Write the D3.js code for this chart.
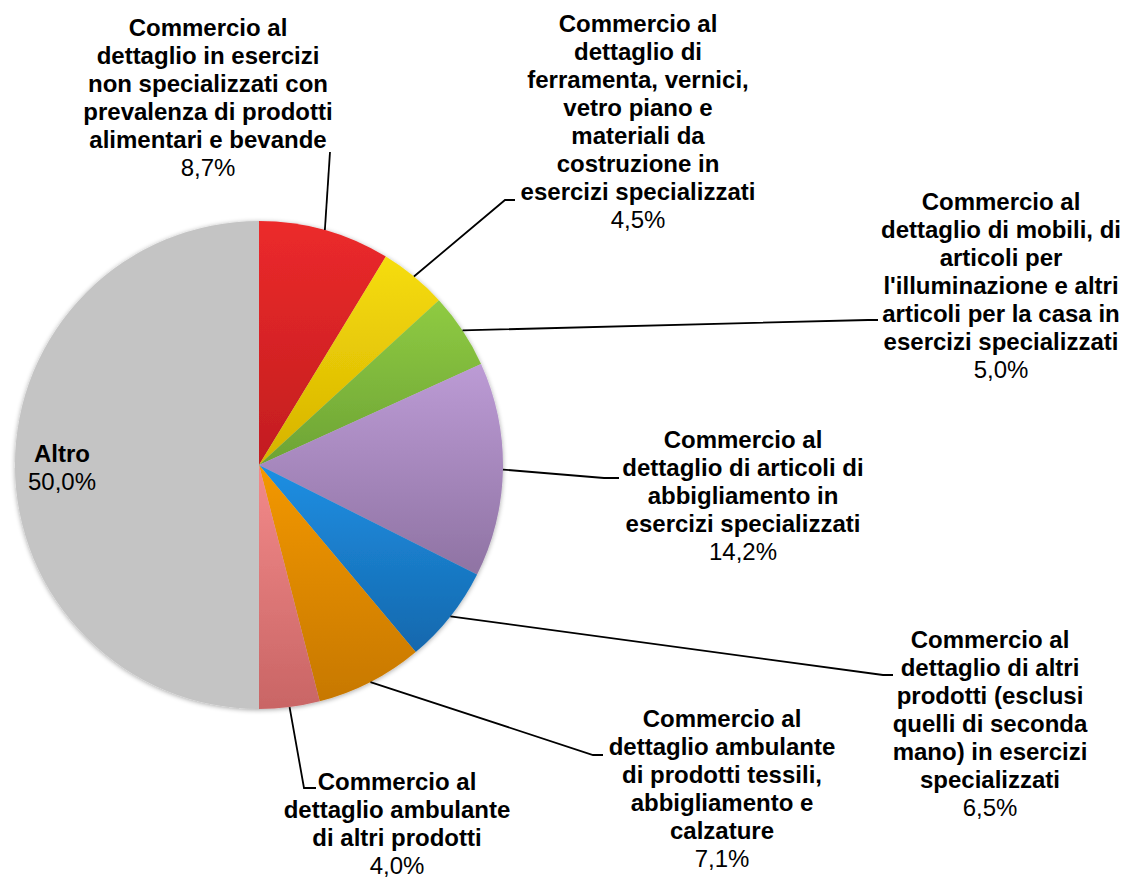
<!DOCTYPE html>
<html lang="it">
<head>
<meta charset="UTF-8">
<title>Commercio al dettaglio</title>
<script src="https://d3js.org/d3.v7.min.js"></script>
<style>
  body { margin: 0; background: #fff; }
  svg { display: block; font-family: 'Liberation Sans', Arial, sans-serif; }
  .leader { fill: none; stroke: #000; stroke-width: 1.8px; }
  .lbl-name { font-weight: bold; font-size: 24px; fill: #000; }
  .lbl-val { font-size: 24px; fill: #000; }
</style>
</head>
<body>
<div id="chart"></div>
<script>
// data (clockwise from 12 o'clock)
const categories = [
  "Commercio al\ndettaglio in esercizi\nnon specializzati con\nprevalenza di prodotti\nalimentari e bevande",
  "Commercio al\ndettaglio di\nferramenta, vernici,\nvetro piano e\nmateriali da\ncostruzione in\nesercizi specializzati",
  "Commercio al\ndettaglio di mobili, di\narticoli per\nl'illuminazione e altri\narticoli per la casa in\nesercizi specializzati",
  "Commercio al\ndettaglio di articoli di\nabbigliamento in\nesercizi specializzati",
  "Commercio al\ndettaglio di altri\nprodotti (esclusi\nquelli di seconda\nmano) in esercizi\nspecializzati",
  "Commercio al\ndettaglio ambulante\ndi prodotti tessili,\nabbigliamento e\ncalzature",
  "Commercio al\ndettaglio ambulante\ndi altri prodotti",
  "Altro"
];
const values = [8.7, 4.5, 5.0, 14.2, 6.5, 7.1, 4.0, 50.0];

// slice colours: [top, bottom] of the vertical gradient
const colors = [
  ["#ec2a2b", "#c21d1f"],
  ["#f6dd0b", "#d6b202"],
  ["#8fcb42", "#6da335"],
  ["#bc9bd5", "#8f73a3"],
  ["#1f8fe3", "#1468ad"],
  ["#f39800", "#c77800"],
  ["#f38a8a", "#c96565"],
  ["#c4c4c4", "#c4c4c4"]
];

// label layout: text centre x, first baseline y, leader polyline end (bend + end)
const labelLayout = [
  {x: 208, y: 36,  pts: [[330, 152]]},
  {x: 638, y: 32,  pts: [[505, 200], [515, 200]]},
  {x: 1001, y: 210, pts: [[868, 320], [878, 320]]},
  {x: 743, y: 448, pts: [[604, 478], [619, 478]]},
  {x: 990, y: 648, pts: [[883, 675], [893, 675]]},
  {x: 722, y: 727, pts: [[593, 755], [603, 755]]},
  {x: 397, y: 790, pts: [[304, 788], [316, 788]]},
  {x: 62,  y: 462, pts: null}
];

const W = 1125, H = 880;
const cx = 259, cy = 465, R = 244;
const lineH = 28;

const fmt = d3.formatLocale({decimal: ",", thousands: ".", grouping: [3], currency: ["", "€"]}).format(".1f");

const svg = d3.select("#chart").append("svg")
  .attr("width", W).attr("height", H);

const defs = svg.append("defs");
colors.forEach((c, i) => {
  const g = defs.append("linearGradient")
    .attr("id", "grad" + i)
    .attr("x1", 0).attr("y1", 0).attr("x2", 0).attr("y2", 1);
  g.append("stop").attr("offset", "0%").attr("stop-color", c[0]);
  g.append("stop").attr("offset", "100%").attr("stop-color", c[1]);
});
const shadow = defs.append("filter").attr("id", "shadow")
  .attr("x", "-10%").attr("y", "-10%").attr("width", "120%").attr("height", "120%");
shadow.append("feGaussianBlur").attr("in", "SourceAlpha").attr("stdDeviation", 2.5);
shadow.append("feOffset").attr("dx", 0).attr("dy", 1).attr("result", "blur");
shadow.append("feComponentTransfer").append("feFuncA").attr("type", "linear").attr("slope", 0.35);
const merge = shadow.append("feMerge");
merge.append("feMergeNode");
merge.append("feMergeNode").attr("in", "SourceGraphic");

const pie = d3.pie().sort(null).value(d => d);
const arcs = pie(values);
const arc = d3.arc().innerRadius(0).outerRadius(R);

const g = svg.append("g").attr("transform", `translate(${cx},${cy})`);

g.append("g").attr("filter", "url(#shadow)")
  .selectAll("path")
  .data(arcs)
  .join("path")
  .attr("d", arc)
  .attr("fill", (d, i) => `url(#grad${i})`);

// leader lines: from the arc at the slice's mid angle to the label
const lead = svg.append("g");
arcs.forEach((a, i) => {
  const L = labelLayout[i];
  if (!L.pts) return;
  const mid = (a.startAngle + a.endAngle) / 2;
  const start = [cx + R * Math.sin(mid), cy - R * Math.cos(mid)];
  lead.append("path")
    .attr("class", "leader")
    .attr("d", d3.line()([start, ...L.pts]));
});

// labels
const lab = svg.append("g");
categories.forEach((name, i) => {
  const L = labelLayout[i];
  const lines = name.split("\n");
  const t = lab.append("text").attr("text-anchor", "middle");
  lines.forEach((ln, k) => {
    t.append("tspan")
      .attr("class", "lbl-name")
      .attr("x", L.x).attr("y", L.y + k * lineH)
      .text(ln);
  });
  t.append("tspan")
    .attr("class", "lbl-val")
    .attr("x", L.x).attr("y", L.y + lines.length * lineH)
    .text(fmt(values[i]) + "%");
});
</script>
</body>
</html>
